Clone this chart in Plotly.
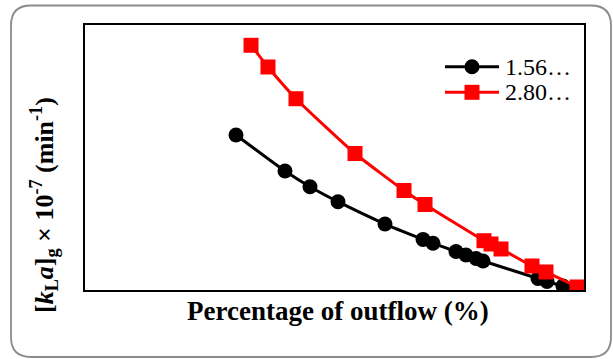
import plotly.graph_objects as go

# Percentage of outflow (%) and [kLa]g x 10^-7 (min^-1) for the two series
series_names = ["1.56…", "2.80…"]
series_colors = ["#000000", "#ff0000"]
series_symbols = ["circle", "square"]

outflow_a = [30.26, 40.08, 45.09, 50.70, 60.12, 67.74, 69.74, 74.35, 76.35,
             78.36, 79.76, 90.78, 92.59, 95.79, 98.60]
kla_a = [2.925, 2.245, 1.949, 1.666, 1.245, 0.955, 0.881, 0.726, 0.660,
         0.594, 0.547, 0.217, 0.160, 0.075, 0.028]

outflow_b = [33.27, 36.67, 42.28, 54.11, 63.93, 68.14, 79.96, 81.36, 83.37,
             89.58, 92.38, 98.60]
kla_b = [4.617, 4.208, 3.609, 2.575, 1.877, 1.613, 0.930, 0.868, 0.774,
         0.453, 0.340, 0.057]

W, H = 613, 359
M_L, M_R, M_T, M_B = 85, 29, 25, 69
PW, PH = W - M_L - M_R, H - M_T - M_B

FONT = "Liberation Serif, Times New Roman, serif"
MARKER_SIZE = 15

fig = go.Figure()
for xs, ys, name, color, symbol in zip(
        [outflow_a, outflow_b], [kla_a, kla_b],
        series_names, series_colors, series_symbols):
    fig.add_trace(go.Scatter(
        x=xs, y=ys, name=name, mode="lines+markers", showlegend=False,
        line=dict(color=color, width=3, shape="spline", smoothing=0.5),
        marker=dict(symbol=symbol, size=MARKER_SIZE, color=color),
    ))


def px_x(p):
    return (p - M_L) / PW


def px_y(p):
    return (H - M_B - p) / PH


# rounded outer frame around the whole chart
bx0, bx1, by0, by1, r = 11, 611, 5.5, 357, 20
path = (
    f"M {px_x(bx0 + r)} {px_y(by0)} "
    f"L {px_x(bx1 - r)} {px_y(by0)} "
    f"Q {px_x(bx1)} {px_y(by0)} {px_x(bx1)} {px_y(by0 + r)} "
    f"L {px_x(bx1)} {px_y(by1 - r)} "
    f"Q {px_x(bx1)} {px_y(by1)} {px_x(bx1 - r)} {px_y(by1)} "
    f"L {px_x(bx0 + r)} {px_y(by1)} "
    f"Q {px_x(bx0)} {px_y(by1)} {px_x(bx0)} {px_y(by1 - r)} "
    f"L {px_x(bx0)} {px_y(by0 + r)} "
    f"Q {px_x(bx0)} {px_y(by0)} {px_x(bx0 + r)} {px_y(by0)} Z"
)
fig.add_shape(type="path", path=path, xref="paper", yref="paper",
              line=dict(color="#8a8a8a", width=1.8), layer="below")

# legend: line with a marker in the middle, then the series label
leg_x0, leg_x1, leg_text_x = 445, 499, 503
leg_rows = [66.7, 92.3]
half = MARKER_SIZE / 2
for name, color, symbol, row in zip(series_names, series_colors,
                                    series_symbols, leg_rows):
    fig.add_shape(type="line", xref="paper", yref="paper",
                  x0=px_x(leg_x0), x1=px_x(leg_x1),
                  y0=px_y(row), y1=px_y(row),
                  line=dict(color=color, width=3))
    fig.add_shape(type="circle" if symbol == "circle" else "rect",
                  xref="paper", yref="paper",
                  xsizemode="pixel", ysizemode="pixel",
                  xanchor=px_x((leg_x0 + leg_x1) / 2), yanchor=px_y(row),
                  x0=-half, x1=half, y0=-half, y1=half,
                  fillcolor=color, line=dict(width=0))
    fig.add_annotation(text=name, xref="paper", yref="paper",
                       x=px_x(leg_text_x), y=px_y(row),
                       xanchor="left", yanchor="middle", showarrow=False,
                       font=dict(family=FONT, size=24, color="#000000"))

fig.add_annotation(
    text="<b>[<i>k</i><sub>L</sub><i>a</i>]<sub>g</sub> × 10<sup>-7</sup> (min<sup>-1</sup>)</b>",
    textangle=-90, xref="paper", yref="paper",
    x=px_x(44), y=px_y(205), xanchor="center", yanchor="middle",
    showarrow=False, font=dict(family=FONT, size=26, color="#000000"),
)

fig.add_annotation(
    text="<b>Percentage of outflow (%)</b>",
    xref="paper", yref="paper", x=px_x(338), y=px_y(311),
    xanchor="center", yanchor="middle", showarrow=False,
    font=dict(family=FONT, size=27, color="#000000"),
)

axis_common = dict(
    showline=True, linecolor="#000000", linewidth=2, mirror=True,
    showgrid=False, zeroline=False, showticklabels=False, ticks="",
)

fig.update_layout(
    width=W, height=H,
    margin=dict(l=M_L, r=M_R, t=M_T, b=M_B),
    paper_bgcolor="#ffffff", plot_bgcolor="#ffffff",
    font=dict(family=FONT, color="#000000"),
    xaxis=dict(range=[0, 100], **axis_common),
    yaxis=dict(range=[0, 5], **axis_common),
    showlegend=False,
)

fig.write_html("out.html")
